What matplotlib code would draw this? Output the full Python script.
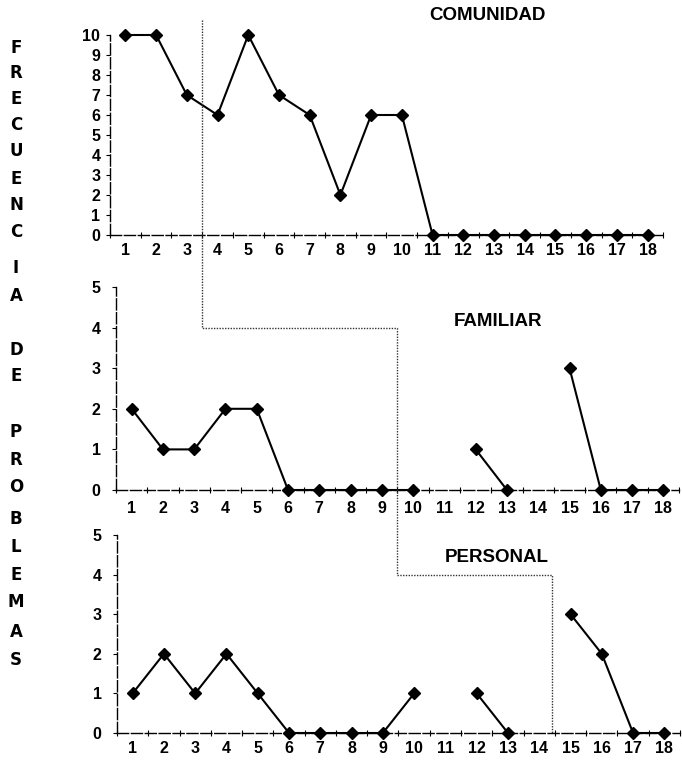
import numpy as np
import matplotlib
matplotlib.use("Agg")
import matplotlib.pyplot as plt
from matplotlib.lines import Line2D

plt.rcParams.update({
    "font.family": ["Liberation Sans", "DejaVu Sans"],
    "font.weight": "bold",
    "font.size": 11.5,
})

NAN = np.nan
sessions = list(range(1, 19))
comunidad = [10, 10, 7, 6, 10, 7, 6, 2, 6, 6, 0, 0, 0, 0, 0, 0, 0, 0]
familiar = [2, 1, 1, 2, 2, 0, 0, 0, 0, 0, NAN, 1, 0, NAN, 3, 0, 0, 0]
personal = [1, 2, 1, 2, 1, 0, 0, 0, 0, 1, NAN, 1, 0, NAN, 3, 2, 0, 0]
titles = ["COMUNIDAD", "FAMILIAR", "PERSONAL"]
ymax = [10, 5, 5]
# phase change points (between sessions)
phase_x = [3.5, 9.5, 14.4]

ylabel_letters = list("FRECUENCIA") + list("DE") + list("PROBLEMAS")
ylabel_ypix = [48, 73, 99, 125, 151, 179, 205, 232, 268, 296,
               350, 376,
               432, 460, 487, 519, 547, 575, 602, 632, 660]

W, H = 682, 767
fig = plt.figure(figsize=(W / 100, H / 100), dpi=100)

# axes boxes in pixels: left, right, bottom, top
boxes = [(110, 663, 235, 35), (116, 679, 490, 287), (117, 680, 733, 535)]
axes = []
for (l, r, b, t) in boxes:
    ax = fig.add_axes([l / W, 1 - b / H, (r - l) / W, (b - t) / H])
    axes.append(ax)

series = [comunidad, familiar, personal]
title_pos = [(487, 15), (498, 322), (497, 557)]
label_pad = [6, 8, 6]
for i, ax in enumerate(axes):
    y = np.array(series[i], dtype=float)
    ax.plot(sessions, y, color="black", lw=1.5, marker="D", ms=6.5,
            mfc="black", mec="black", clip_on=False, zorder=5)
    ax.set_xlim(0.5, 18.5)
    ax.set_ylim(0, ymax[i])
    for s in ["top", "right"]:
        ax.spines[s].set_visible(False)
    for s in ["left", "bottom"]:
        ax.spines[s].set_linewidth(1.0)
        ax.spines[s].set_linestyle((0, (8, 2)))
    ax.set_xticks(np.arange(0.5, 19, 1.0))
    ax.set_xticklabels([])
    ax.set_xticks(sessions, minor=True)
    ax.set_xticklabels([str(s) for s in sessions], minor=True)
    ax.tick_params(axis="x", which="major", direction="inout", length=5, width=0.8)
    ax.tick_params(axis="x", which="minor", length=0, pad=label_pad[i], labelsize=11.5)
    ax.set_yticks(range(0, ymax[i] + 1))
    ax.tick_params(axis="y", direction="out", length=3, width=0.8,
                   pad=4 if i == 0 else 8, labelsize=11.5)
    ax.patch.set_alpha(0)
    tx, ty = title_pos[i]
    fig.text(tx / W, 1 - ty / H, titles[i], ha="center", va="center",
             fontsize=13.5, fontweight="bold")


def fpos(ax, x, y):
    return fig.transFigure.inverted().transform(ax.transData.transform((x, y)))


top, mid, bot = axes
p0 = fpos(top, phase_x[0], 10.75)
p1 = (p0[0], fpos(mid, 0, 4)[1])
p2 = (fpos(mid, phase_x[1], 4)[0], p1[1])
p3 = (p2[0], fpos(bot, 0, 4)[1])
p4 = (fpos(bot, phase_x[2], 4)[0], p3[1])
p5 = (p4[0], fpos(bot, 0, 0)[1])
pts = [p0, p1, p2, p3, p4, p5]
fig.lines.append(Line2D([p[0] for p in pts], [p[1] for p in pts],
                        transform=fig.transFigure, color="#333333",
                        lw=1.0, ls=(0, (1, 1))))

for ch, yp in zip(ylabel_letters, ylabel_ypix):
    fig.text(16 / W, 1 - yp / H, ch, ha="center", va="center",
             fontsize=12, fontweight="bold", family="DejaVu Sans")

fig.savefig("out.png", dpi=100, facecolor="white")
